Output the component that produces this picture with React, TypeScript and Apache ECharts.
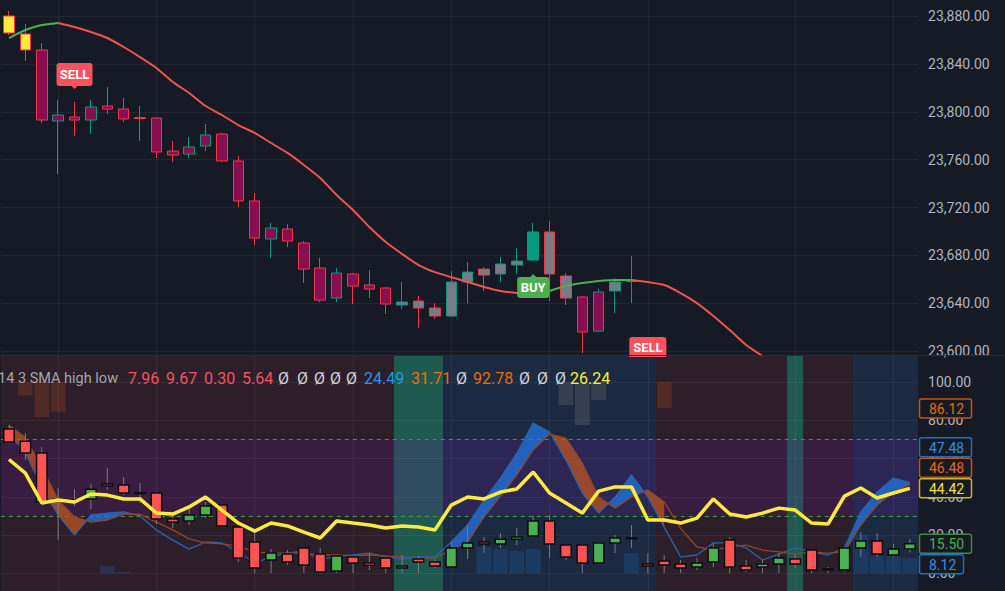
import { useEffect, useRef } from "react";
import * as echarts from "echarts";

// ---------------- data ----------------
const BAR_COUNT = 56;
const categories = Array.from({ length: BAR_COUNT }, (_, i) => `${i}`);

// price pane (open, high, low, close)
const priceOpen = [23880.0, 23865.0, 23851.6, 23792.3, 23795.6, 23793.1, 23804.8, 23802.3, 23795.2, 23794.8, 23767.2, 23764.7, 23771.4, 23781.4, 23758.9, 23725.5, 23693.7, 23702.1, 23690.4, 23669.5, 23644.4, 23664.5, 23655.3, 23652.8, 23638.6, 23641.9, 23636.1, 23629.4, 23657.8, 23668.6, 23664.5, 23672.0, 23676.2, 23699.6, 23662.8, 23645.3, 23616.8, 23650.3, 23658.2];
const priceHigh = [23884.2, 23873.3, 23857.4, 23809.8, 23808.2, 23809.8, 23820.7, 23811.5, 23804.8, 23795.6, 23775.6, 23778.9, 23789.8, 23782.3, 23763.0, 23732.1, 23707.1, 23706.2, 23692.0, 23677.8, 23669.5, 23665.3, 23667.8, 23653.6, 23657.8, 23646.1, 23640.2, 23667.0, 23674.5, 23670.3, 23678.7, 23686.2, 23707.1, 23708.7, 23665.3, 23646.1, 23651.9, 23661.1, 23679.5];
const priceLow = [23864.1, 23842.4, 23790.6, 23748.0, 23779.8, 23781.4, 23798.1, 23791.4, 23775.6, 23761.4, 23758.0, 23761.4, 23767.2, 23758.0, 23720.4, 23688.7, 23677.8, 23687.0, 23656.9, 23641.1, 23641.1, 23639.4, 23644.4, 23631.1, 23635.2, 23619.4, 23626.9, 23628.6, 23640.2, 23650.3, 23657.8, 23664.5, 23675.3, 23641.9, 23638.6, 23598.5, 23616.0, 23631.9, 23640.2];
const priceClose = [23865.8, 23851.6, 23793.1, 23797.3, 23793.1, 23804.0, 23802.3, 23794.0, 23794.4, 23766.4, 23763.9, 23770.6, 23780.6, 23758.9, 23725.5, 23694.5, 23702.9, 23692.0, 23668.6, 23642.7, 23665.3, 23654.4, 23651.9, 23639.4, 23641.1, 23636.1, 23629.4, 23657.8, 23666.1, 23663.6, 23672.8, 23675.3, 23699.6, 23664.5, 23644.4, 23616.0, 23649.4, 23657.8, 23659.0];
// bar colouring state: y = highlight, m = bearish regime, g = neutral, t = bullish regime
const priceBarState = ["y", "y", "m", "m", "m", "m", "m", "m", "m", "m", "m", "m", "m", "m", "m", "m", "m", "m", "m", "m", "m", "m", "m", "m", "g", "g", "g", "g", "g", "g", "g", "g", "t", "g", "g", "m", "m", "g", "t"];

// trend moving average (extends past last bar)
const trendLine = [23861.6, 23868.3, 23872.5, 23874.2, 23870.8, 23866.6, 23861.6, 23854.1, 23845.7, 23836.6, 23824.9, 23815.7, 23804.8, 23797.3, 23788.9, 23782.3, 23773.9, 23765.6, 23755.6, 23744.7, 23730.5, 23717.9, 23703.7, 23691.2, 23681.2, 23672.0, 23666.1, 23661.9, 23657.8, 23653.6, 23650.3, 23648.6, 23647.8, 23650.3, 23654.4, 23656.9, 23658.6, 23659.5, 23659.5, 23657.8, 23655.3, 23648.6, 23640.2, 23629.4, 23617.7, 23605.2, 23596.0];
const trendUpFrom = [0, 33];
const trendUpTo = [3, 38];
const trendDownFrom = [3, 38];
const trendDownTo = [33, 46];

// signals
const signalKind = ["SELL", "BUY", "SELL"];
const signalIndex = [4, 32, 39];
const signalPrice = [23808.2, 23675.3, 23603.5];

// oscillator pane
const oscOpen = [75.4, 69.1, 62.9, 38.3, 38.0, 38.9, 46.7, 46.2, 42.2, 42.0, 28.4, 27.4, 30.5, 35.7, 24.2, 16.4, 7.0, 10.1, 13.3, 10.1, 1.2, 8.6, 5.4, 8.0, 2.8, 7.5, 6.0, 3.3, 13.3, 16.4, 15.4, 17.9, 19.5, 27.4, 14.8, 14.8, 5.4, 15.9, 18.6, 4.9, 6.5, 4.9, 3.3, 6.0, 17.4, 3.9, 3.3, 4.9, 7.5, 12.2, 2.4, 1.8, 13.3, 16.9, 9.6, 12.7];
const oscHigh = [77.4, 73.3, 66.0, 44.6, 44.0, 46.7, 55.0, 50.3, 47.2, 42.5, 30.5, 33.6, 37.3, 36.2, 24.5, 21.1, 12.7, 12.2, 13.8, 13.3, 9.6, 9.1, 10.6, 8.6, 9.6, 9.1, 7.5, 16.4, 25.3, 19.0, 21.1, 23.7, 30.0, 30.5, 15.4, 15.4, 16.4, 20.0, 25.3, 10.6, 9.6, 7.0, 8.0, 15.9, 19.0, 7.0, 7.0, 10.6, 9.6, 12.7, 3.3, 14.0, 21.6, 20.9, 15.4, 17.9];
const oscLow = [68.1, 59.2, 36.5, 17.4, 35.2, 33.6, 43.6, 40.9, 36.8, 25.8, 23.7, 25.3, 29.0, 24.5, 5.9, 0.2, 0.2, 4.4, 0.2, 0.0, 0.2, 0.2, 1.8, 0.2, 0.2, 0.2, 2.8, 3.0, 7.5, 10.6, 13.3, 14.8, 19.0, 8.0, 7.0, 0.2, 5.0, 10.6, 13.3, 0.0, 0.2, 0.2, 1.8, 3.3, 0.2, 0.7, 0.2, 0.2, 2.8, 0.2, 0.2, 1.0, 8.6, 8.6, 8.6, 11.0];
const oscClose = [68.6, 62.9, 37.3, 38.8, 38.3, 44.0, 45.6, 42.0, 41.8, 28.4, 26.8, 30.5, 35.2, 24.8, 8.0, 2.8, 10.6, 6.0, 4.4, 0.7, 9.1, 5.4, 4.2, 2.8, 3.9, 6.0, 3.9, 13.3, 15.9, 15.4, 17.9, 19.0, 27.4, 15.4, 8.6, 5.4, 15.9, 18.5, 18.4, 3.9, 4.4, 2.8, 5.4, 13.3, 3.3, 1.8, 4.9, 8.0, 4.9, 1.8, 2.2, 13.3, 16.9, 10.1, 12.7, 15.5];

const smaLine = [59.5, 52.4, 36.8, 38.3, 37.3, 41.5, 40.9, 38.9, 38.9, 31.5, 31.0, 34.7, 39.9, 33.1, 26.3, 22.1, 26.3, 24.8, 21.6, 18.5, 27.4, 26.3, 25.3, 23.7, 24.8, 24.2, 22.7, 35.7, 39.9, 38.9, 42.5, 44.1, 53.0, 42.0, 36.8, 31.5, 43.0, 45.2, 45.2, 27.9, 27.9, 26.3, 28.9, 38.9, 31.0, 29.5, 31.5, 34.1, 33.1, 26.3, 25.8, 40.4, 44.6, 39.4, 42.0, 44.42];
const kLine = [73, 63, 45, 30.5, 20, 30.5, 31.5, 32.1, 30, 22.7, 17.4, 12.7, 16.4, 15.9, 11.2, 5.4, 8.6, 10.6, 11.7, 7, 9, 9.6, 10.6, 8.6, 7.5, 8.6, 8.6, 16.4, 25.3, 38.3, 49.8, 62.8, 78.5, 73.8, 59.2, 42, 31.5, 39.9, 51.4, 40, 24.2, 8.6, 9.6, 15.9, 15.9, 13.3, 7, 10.1, 13.3, 11.2, 9.6, 13.3, 32.1, 42.5, 49.8, 47.48];
const dLine = [77.5, 71, 55.6, 38.3, 29.5, 26.8, 27.9, 31, 31, 26.8, 22.7, 18, 15.9, 15.4, 14.3, 11.2, 10.6, 10.6, 10.6, 9.6, 9.6, 9.1, 9.6, 9.1, 8.6, 8, 8, 12.2, 16.4, 29.5, 40.4, 51.4, 64.4, 72.8, 70.7, 57.7, 39.9, 34.1, 39.9, 43.6, 37.3, 23.5, 13.8, 12.2, 13.8, 14.8, 12.2, 11.2, 10.1, 11.2, 10.6, 11.2, 25.3, 35.7, 42.5, 46.48];
const crossFillFrom = [0, 27, 51];
const crossFillTo = [8, 40, 55];

const volIndex = [6, 7, 29, 30, 31, 32, 38, 52, 53, 54, 55];
const volValue = [3.9, 0.7, 13.8, 12.7, 11.7, 12.7, 10.6, 20, 9, 9, 8.12];

const hangIndex = [1, 2, 3, 34, 35, 36, 40];
const hangValue = [93, 81.6, 84.5, 88, 77.5, 90.6, 86.4];
const hangKind = ["o", "o", "o", "g", "g", "g", "o"];
const hangBase = 100;

const regimeFrom = [0, 24, 27, 40, 48, 49, 52];
const regimeTo = [23, 26, 39, 47, 48, 51, 55];
const regimeKind = ["r", "t", "b", "r", "t", "r", "b"];

const overbought = 70;
const oversold = 30;

const timeGridIndex = [3, 9, 15, 21, 27, 33, 39, 48, 54];

const lastValues = [86.12, 44.42, 15.5, 46.48, 47.48, 8.12]; // priority order
const lastValueKind = ["orange", "yellow", "green", "orange", "blue", "blue"];

const legendTokens = ["14 3 SMA high low", "7.96", "9.67", "0.30", "5.64", "Ø", "Ø", "Ø", "Ø", "Ø", "24.49", "31.71", "Ø", "92.78", "Ø", "Ø", "Ø", "26.24"];
const legendKind = ["txt", "red", "red", "red", "red", "na", "na", "na", "na", "na", "blue", "orange", "na", "orange", "na", "na", "na", "yellow"];

// ---------------- styles ----------------
const FONT = "Roboto";
const BG = "#161a25";
const GRID_LINE = "rgba(255,255,255,0.055)";
const PRICE_MIN = 23560;
const PRICE_MAX = 23893.36;
const PRICE_PANE_FLOOR = 23596;
const OSC_MIN = -9.2;
const OSC_MAX = 113.58;
const PLOT_LEFT = 0.81;
const PLOT_WIDTH = 917.3;

const FILL: Record<string, string> = { y: "#ffeb3b", m: "#880e4f", g: "#787b86", t: "#089981" };
const UP_BORDER = "#089981";
const DOWN_BORDER = "#f23645";
const REGIME: Record<string, string> = { r: "#2c1f2a", t: "#1f5a50", b: "#1b2a40" };
const HANG: Record<string, string> = { o: "rgba(230,90,20,0.2)", g: "rgba(120,118,128,0.28)" };
const K_FILL = "rgba(33,120,230,0.72)";
const D_FILL = "rgba(200,88,30,0.7)";
const LEGEND_COLOR: Record<string, string> = { txt: "#a3a6af", red: "#f7525f", na: "#d1d4dc", blue: "#2196f3", orange: "#ef6c00", yellow: "#ffeb3b" };
const LABEL_COLOR: Record<string, [string, string]> = {
  orange: ["#e8690f", "#c2570c"],
  yellow: ["#f4e24a", "#c9b52f"],
  green: ["#4caf50", "#3b8c3f"],
  blue: ["#2e8ee6", "#1e6fc0"],
};
const LEGEND_X = [-2, 128, 166, 204, 242, 278, 297, 314, 330, 346, 364, 411, 456, 473, 519, 537, 555, 570];
const LEGEND_SIZE = [14.5, 16, 16, 16, 16, 16, 16, 16, 16, 16, 16, 16, 16, 16, 16, 16, 16, 16];

const SELL_PATH = "path://M3,0 L33,0 Q36,0 36,3 L36,20 Q36,23 33,23 L21,23 L18,26 L15,23 L3,23 Q0,23 0,20 L0,3 Q0,0 3,0 Z";
const BUY_PATH = "path://M16,0 L19,3 L29,3 Q32,3 32,6 L32,21 Q32,24 29,24 L3,24 Q0,24 0,21 L0,6 Q0,3 3,3 L13,3 Z";
const CUT_PATH = "path://M3,0 L34,0 Q37,0 37,3 L37,20 L0,20 L0,3 Q0,0 3,0 Z";

function inRanges(i: number, from: number[], to: number[]) {
  for (let k = 0; k < from.length; k++) if (i >= from[k] && i <= to[k]) return true;
  return false;
}

function buildOption() {
  const candleData = priceOpen.map((o, i) => {
    const c = priceClose[i];
    const fill = FILL[priceBarState[i]];
    const border = c >= o ? UP_BORDER : DOWN_BORDER;
    return {
      value: [o, c, priceLow[i], priceHigh[i]],
      itemStyle: { color: fill, color0: fill, borderColor: border, borderColor0: border },
    };
  });

  const trendUp = trendLine.map((v, i) => (inRanges(i, trendUpFrom, trendUpTo) ? v : null));
  const trendDown = trendLine.map((v, i) => (inRanges(i, trendDownFrom, trendDownTo) ? v : null));

  const signalData = signalKind.map((k, i) => {
    const beyond = signalIndex[i] >= priceOpen.length;
    const sell = k === "SELL";
    return {
      coord: [categories[signalIndex[i]], signalPrice[i]],
      symbol: beyond ? CUT_PATH : sell ? SELL_PATH : BUY_PATH,
      symbolSize: beyond ? [37, 20] : sell ? [36, 26] : [32, 24],
      symbolOffset: beyond ? [0, 0] : sell ? [0, -26] : [0, 25],
      itemStyle: { color: sell ? "#f7525f" : "#4caf50" },
      label: {
        show: true,
        formatter: k,
        color: "#ffffff",
        fontSize: 13,
        fontWeight: "bold",
        fontFamily: FONT,
        offset: beyond ? [0, 0] : sell ? [0, -1.5] : [0, 1.5],
      },
    };
  });

  const volData = categories.map(() => null as number | null);
  volIndex.forEach((idx, k) => (volData[idx] = volValue[k]));

  const oscCandleData = oscOpen.map((o, i) => [i, o, oscClose[i], oscLow[i], oscHigh[i]]);

  const priceFmt = (v: number) =>
    v < 23600 - 0.01 || v > 23880 + 0.01
      ? ""
      : v.toLocaleString("en-US", { minimumFractionDigits: 2, maximumFractionDigits: 2 });
  const oscFmt = (v: number) =>
    v < -0.01 || v > 100.01 || Math.abs(v / 20 - Math.round(v / 20)) > 1e-6 ? "" : v.toFixed(2);

  return {
    animation: false,
    backgroundColor: BG,
    textStyle: { fontFamily: FONT },
    grid: [
      { left: PLOT_LEFT, width: PLOT_WIDTH, top: 0, height: 399.1, containLabel: false },
      { left: PLOT_LEFT, width: PLOT_WIDTH, top: 356, height: 235, containLabel: false },
    ],
    xAxis: [
      { type: "category", gridIndex: 0, data: categories, boundaryGap: true, show: false },
      { type: "category", gridIndex: 1, data: categories, boundaryGap: true, show: false },
    ],
    yAxis: [
      {
        type: "value",
        gridIndex: 0,
        position: "right",
        min: PRICE_MIN,
        max: PRICE_MAX,
        interval: 40,
        axisLine: { show: false },
        axisTick: { show: false },
        axisLabel: { color: "#b2b5be", fontSize: 14, fontFamily: FONT, margin: 10, formatter: priceFmt },
        splitLine: { show: true, showMinLine: false, showMaxLine: false, lineStyle: { color: GRID_LINE, width: 1 } },
      },
      {
        type: "value",
        gridIndex: 1,
        position: "right",
        min: OSC_MIN,
        max: OSC_MAX,
        splitNumber: 6,
        minInterval: 20,
        maxInterval: 20,
        axisLine: { show: false },
        axisTick: { show: false },
        axisLabel: { color: "#b2b5be", fontSize: 14, fontFamily: FONT, margin: 10, formatter: oscFmt },
        splitLine: { show: true, showMinLine: false, showMaxLine: false, lineStyle: { color: GRID_LINE, width: 1 } },
      },
    ],
    series: [
      // ---------- price pane ----------
      {
        type: "candlestick",
        name: "price",
        xAxisIndex: 0,
        yAxisIndex: 0,
        barWidth: 11,
        z: 2,
        itemStyle: { borderWidth: 1 },
        data: candleData,
        markLine: {
          z: 1,
          silent: true,
          symbol: ["none", "none"],
          label: { show: false },
          lineStyle: { color: GRID_LINE, type: "solid", width: 1 },
          data: timeGridIndex.map((i) => [
            { coord: [categories[i], PRICE_PANE_FLOOR] },
            { coord: [categories[i], PRICE_MAX] },
          ]),
        },
        markPoint: { z: 6, silent: true, data: signalData },
      },
      {
        type: "line",
        name: "trend up",
        xAxisIndex: 0,
        yAxisIndex: 0,
        z: 3,
        data: trendUp,
        showSymbol: false,
        connectNulls: false,
        smooth: 0.2,
        lineStyle: { color: "#4caf50", width: 2 },
      },
      {
        type: "line",
        name: "trend down",
        xAxisIndex: 0,
        yAxisIndex: 0,
        z: 3,
        data: trendDown,
        showSymbol: false,
        connectNulls: false,
        smooth: 0.2,
        lineStyle: { color: "#f05350", width: 2 },
      },
      // ---------- oscillator pane ----------
      {
        type: "custom",
        name: "regime",
        xAxisIndex: 1,
        yAxisIndex: 1,
        z: -1,
        silent: true,
        data: regimeFrom.map((s, i) => [s, regimeTo[i]]),
        renderItem: (params: any, api: any) => {
          const s = api.value(0);
          const e = api.value(1);
          const w = api.size([1, 0])[0];
          const x0 = api.coord([s, 0])[0] - w / 2;
          const x1 = api.coord([e, 0])[0] + w / 2;
          const cs = params.coordSys;
          return {
            type: "rect",
            shape: { x: x0, y: cs.y, width: x1 - x0, height: cs.height },
            style: { fill: REGIME[regimeKind[params.dataIndex]] },
          };
        },
        markArea: {
          z: 0,
          silent: true,
          itemStyle: { color: "rgba(110,26,158,0.2)" },
          data: [[{ yAxis: overbought }, { yAxis: oversold }]],
        },
        markLine: {
          z: 1,
          silent: true,
          symbol: ["none", "none"],
          label: { show: false },
          data: [
            ...timeGridIndex.map((i) => ({
              xAxis: categories[i],
              lineStyle: { color: GRID_LINE, type: "solid", width: 1 },
            })),
            { yAxis: overbought, lineStyle: { color: "#c44d5a", type: [4, 4], width: 1 } },
            { yAxis: oversold, lineStyle: { color: "#3f9a4c", type: [4, 4], width: 1 } },
          ],
        },
      },
      {
        type: "custom",
        name: "upper histogram",
        xAxisIndex: 1,
        yAxisIndex: 1,
        z: 2,
        silent: true,
        data: hangIndex.map((idx, k) => [idx, hangValue[k]]),
        renderItem: (params: any, api: any) => {
          const i = api.value(0);
          const v = api.value(1);
          const base = api.coord([i, hangBase]);
          const end = api.coord([i, v]);
          const w = api.size([1, 0])[0] * 0.9;
          return {
            type: "rect",
            shape: { x: base[0] - w / 2, y: base[1], width: w, height: end[1] - base[1] },
            style: { fill: HANG[hangKind[params.dataIndex]] },
          };
        },
      },
      {
        type: "bar",
        name: "lower histogram",
        xAxisIndex: 1,
        yAxisIndex: 1,
        z: 2,
        barWidth: 15,
        silent: true,
        data: volData,
        itemStyle: { color: "rgba(33,120,220,0.2)" },
      },
      {
        type: "custom",
        name: "cross fill",
        xAxisIndex: 1,
        yAxisIndex: 1,
        z: 2,
        silent: true,
        data: crossFillFrom.map((s, i) => [s, crossFillTo[i]]),
        renderItem: (params: any, api: any) => {
          const s = api.value(0);
          const e = api.value(1);
          const P = (k: number, v: number) => api.coord([k, v]);
          const poly = (top: number[][], bot: number[][], sign: number) => ({
            type: "polygon",
            shape: { points: top.concat(bot.slice().reverse()) },
            style: { fill: sign > 0 ? K_FILL : D_FILL },
          });
          const children: any[] = [];
          let top: number[][] = [];
          let bot: number[][] = [];
          let sign = 0;
          for (let i = s; i <= e; i++) {
            const d = kLine[i] - dLine[i];
            const sg = d >= 0 ? 1 : -1;
            const pk = P(i, kLine[i]);
            const pd = P(i, dLine[i]);
            if (i === s) {
              sign = sg;
              top.push(pk);
              bot.push(pd);
              continue;
            }
            if (sg !== sign) {
              const dp = kLine[i - 1] - dLine[i - 1];
              const t = dp / (dp - d);
              const pk0 = top[top.length - 1];
              const X = [pk0[0] + t * (pk[0] - pk0[0]), pk0[1] + t * (pk[1] - pk0[1])];
              top.push(X);
              children.push(poly(top, bot, sign));
              top = [X, pk];
              bot = [pd];
              sign = sg;
            } else {
              top.push(pk);
              bot.push(pd);
            }
          }
          children.push(poly(top, bot, sign));
          return { type: "group", children };
        },
      },
      {
        type: "line",
        name: "k",
        xAxisIndex: 1,
        yAxisIndex: 1,
        z: 3,
        data: kLine,
        showSymbol: false,
        lineStyle: { color: "#2d62a8", width: 1.3 },
      },
      {
        type: "line",
        name: "d",
        xAxisIndex: 1,
        yAxisIndex: 1,
        z: 3,
        data: dLine,
        showSymbol: false,
        lineStyle: { color: "#8d4626", width: 1.3 },
      },
      {
        type: "custom",
        name: "osc candles",
        xAxisIndex: 1,
        yAxisIndex: 1,
        z: 4,
        silent: true,
        encode: { x: 0, y: [1, 2, 3, 4] },
        data: oscCandleData,
        renderItem: (params: any, api: any) => {
          const i = api.value(0);
          const o = api.value(1);
          const c = api.value(2);
          const l = api.value(3);
          const h = api.value(4);
          const po = api.coord([i, o]);
          const yc = api.coord([i, c])[1];
          const yl = api.coord([i, l])[1];
          const yh = api.coord([i, h])[1];
          const x = po[0];
          const w = api.size([1, 0])[0] * 0.64;
          const top = Math.min(po[1], yc);
          const ht = Math.max(Math.abs(po[1] - yc), 1);
          return {
            type: "group",
            children: [
              { type: "line", shape: { x1: x, y1: yh, x2: x, y2: yl }, style: { stroke: "#787b86", lineWidth: 1 } },
              {
                type: "rect",
                shape: { x: x - w / 2, y: top, width: w, height: ht },
                style: { fill: c >= o ? "#4caf50" : "#ff5252", stroke: "#0b0d12", lineWidth: 1.5 },
              },
            ],
          };
        },
      },
      {
        type: "line",
        name: "sma",
        xAxisIndex: 1,
        yAxisIndex: 1,
        z: 5,
        data: smaLine,
        showSymbol: false,
        lineStyle: { color: "#ffeb3b", width: 3.5 },
      },
    ],
  };
}

function buildGraphic(chart: any) {
  const elements: any[] = [];
  elements.push({
    type: "rect",
    z: 20,
    silent: true,
    shape: { x: 0, y: 355, width: 1005, height: 1 },
    style: { fill: "#2a2e39" },
  });
  legendTokens.forEach((t, i) => {
    elements.push({
      type: "text",
      z: 20,
      silent: true,
      x: LEGEND_X[i],
      y: 378,
      style: {
        text: t,
        fill: LEGEND_COLOR[legendKind[i]],
        fontSize: LEGEND_SIZE[i],
        fontFamily: FONT,
        align: "left",
        verticalAlign: "middle",
        textAlign: "left",
        textVerticalAlign: "middle",
      },
    });
  });

  // last-value tags with overlap avoidance (priority order)
  const H = 20.5;
  const placed: { y: number; natural: number }[] = [];
  lastValues.forEach((v, k) => {
    const natural = chart.convertToPixel({ yAxisIndex: 1 }, v) as number;
    let y = natural;
    for (let iter = 0; iter < 12; iter++) {
      let moved = false;
      for (const p of placed) {
        if (Math.abs(y - p.y) < H - 0.01) {
          y = natural <= p.natural ? p.y - H : p.y + H;
          moved = true;
        }
      }
      if (!moved) break;
    }
    placed.push({ y, natural });
    const text = v.toFixed(2);
    const [fg, border] = LABEL_COLOR[lastValueKind[k]];
    const w = text.length >= 5 ? 52 : 44;
    elements.push({
      type: "rect",
      z: 30,
      silent: true,
      shape: { x: 919.5, y: y - 9.5, width: w, height: 19, r: 2 },
      style: { fill: BG, stroke: border, lineWidth: 1.5 },
    });
    elements.push({
      type: "text",
      z: 31,
      silent: true,
      x: 929,
      y: y + 0.5,
      style: {
        text,
        fill: fg,
        fontSize: 14,
        fontFamily: FONT,
        align: "left",
        verticalAlign: "middle",
        textAlign: "left",
        textVerticalAlign: "middle",
      },
    });
  });
  return elements;
}

export default function App() {
  const ref = useRef<HTMLDivElement>(null);
  useEffect(() => {
    if (!ref.current) return;
    const chart = echarts.init(ref.current, null, { renderer: "svg" });
    chart.setOption(buildOption() as any);
    chart.setOption({ graphic: buildGraphic(chart) } as any);
    return () => chart.dispose();
  }, []);
  return <div ref={ref} style={{ position: "fixed", left: 0, top: 0, width: 1005, height: 591 }} />;
}
